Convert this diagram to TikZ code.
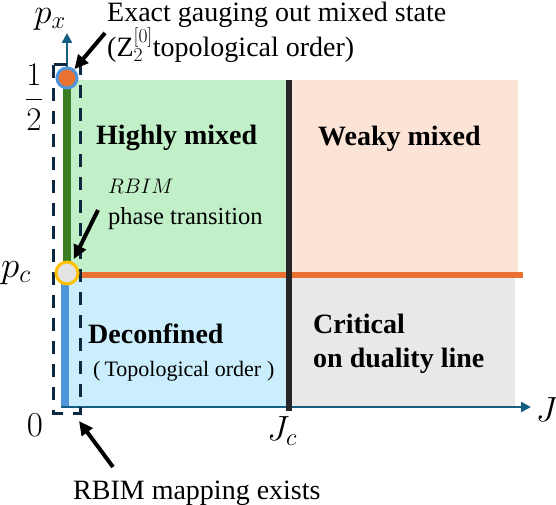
\RequirePackage{fix-cm}
\documentclass[tikz,border=0pt]{standalone}
\usepackage{fontspec}
\setmainfont{Liberation Serif}
\usetikzlibrary{arrows.meta}
\definecolor{cgreen}{HTML}{C1F0C8}
\definecolor{cpeach}{HTML}{FBE3D6}
\definecolor{cblue}{HTML}{CAEEFB}
\definecolor{cgray}{HTML}{E8E8E8}
\definecolor{corange}{HTML}{E97132}
\definecolor{cblack}{HTML}{262626}
\definecolor{caxis}{HTML}{156082}
\definecolor{cnavy}{HTML}{0E2841}
\definecolor{cdgreen}{HTML}{3B7D23}
\definecolor{cbar}{HTML}{4E95D9}
\definecolor{cgold}{HTML}{FFC000}
\definecolor{cdot}{HTML}{E3E3E3}
\begin{document}
\begin{tikzpicture}[x=1pt,y=-1pt,
  lbl/.style={inner sep=0pt, anchor=base west, font=\fontsize{28}{33}\selectfont},
  blbl/.style={inner sep=0pt, anchor=base west, font=\fontsize{28}{33}\selectfont\bfseries},
  mlbl/.style={inner sep=0pt, font=\fontsize{37}{42}\selectfont},
  pointer/.style={line width=4pt, black, -{Triangle[length=14pt,width=13pt]}},
  axisline/.style={line width=2.5pt, caxis, -{Triangle[length=10pt,width=10pt]}},
  dot/.style={circle, line width=3pt, minimum size=20pt, inner sep=0pt},
]
\useasboundingbox (0,0) rectangle (556,505);
% regions
\fill[cgreen] (66,80) rectangle (289,275);
\fill[cpeach] (289,80) rectangle (518,275);
\fill[cblue] (66,275) rectangle (289,407);
\fill[cgray] (289,275) rectangle (515,407);
% phase boundaries
\draw[corange, line width=6pt] (66,275) -- (523,275);
% axes
\coordinate (yO) at (67,407);
\coordinate (yend) at (67,33);
\coordinate (xO) at (61,407);
\coordinate (xend) at (531,407);
\draw[axisline] (yO) -- (yend);
% bars on the axis
\draw[cdgreen, line width=8pt] (67,80) -- (67,273);
\draw[cbar, line width=8pt] (65,275) -- (65,407);
\draw[axisline] (xO) -- (xend);
\draw[cblack, line width=6pt] (289,80) -- (289,411);
% dashed frame
\draw[cnavy, line width=3pt, dash pattern=on 13pt off 10pt] (53,65) rectangle (80,413);
% special points
\node[dot, fill=corange, draw=cbar] (half) at (67,78) {};
\node[dot, fill=cdot, draw=cgold, minimum size=22pt] (pc) at (67,273) {};
% axis labels
\node[mlbl, font=\fontsize{35}{40}\selectfont] (px) at (50,19) {$p_x$};
\node[inner sep=0pt, font=\fontsize{33}{38}\selectfont] (frac) at (34,97) {$\displaystyle\frac{1}{2}$};
\node[mlbl] (pcl) at (16,273) {$p_c$};
\node[mlbl, font=\fontsize{35}{40}\selectfont] (zero) at (35,425) {$0$};
\node[mlbl, font=\fontsize{35}{40}\selectfont] (jc) at (282,431) {$J_c$};
\node[mlbl, font=\fontsize{35}{40}\selectfont] (jl) at (547,410) {$J$};
% texts
\node[lbl] (exact) at (107,22) {Exact gauging out mixed state};
\node[lbl] (ztwo) at (107,57) {(Z$_2^{[0]}$topological order)};
\node[blbl] (high) at (96,145) {Highly mixed};
\node[blbl] (weak) at (318,146) {Weaky mixed};
\node[inner sep=0pt, anchor=base west, font=\fontsize{21}{25}\selectfont] (rbim) at (108,193) {$RBIM$};
\node[inner sep=0pt, anchor=base west, font=\fontsize{24.5}{28}\selectfont] (phase) at (108,224) {phase transition};
\node[blbl] (dec) at (88,343) {Deconfined};
\node[inner sep=0pt, anchor=base west, font=\fontsize{22}{26}\selectfont] (topo) at (93,376) {(\hspace{4pt}Topological order\hspace{6pt})};
\node[blbl] (crit) at (313,333) {Critical};
\node[blbl] (dual) at (313,367) {on duality line};
\node[lbl] (map) at (73,499) {RBIM mapping exists};
% pointers
\coordinate (a1) at (105,33);
\coordinate (a2) at (98,210);
\coordinate (a3) at (113,467);
\coordinate (mapdash) at (79,421);
\draw[pointer] (a1) -- (half);
\draw[pointer, shorten >=3pt] (a2) -- (pc);
\draw[pointer] (a3) -- (mapdash);
\end{tikzpicture}
\end{document}
